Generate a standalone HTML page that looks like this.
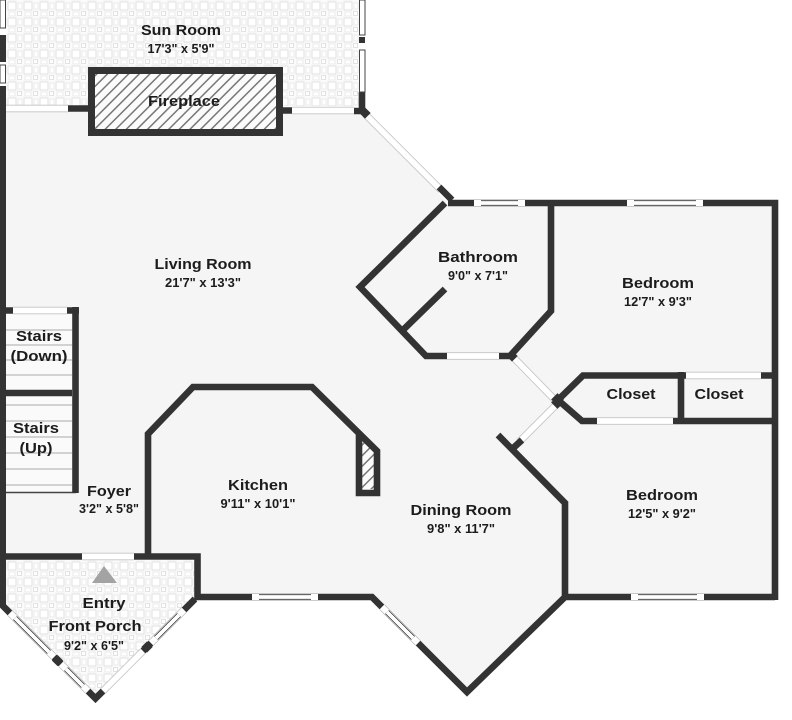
<!DOCTYPE html>
<html><head><meta charset="utf-8"><style>
html,body{margin:0;padding:0;background:#fff}
svg{display:block}
text{font-family:"Liberation Sans",sans-serif;font-weight:bold;fill:#1c1c1c;text-anchor:middle;font-size:15px}
text.s{font-size:12.5px}
.w{fill:none;stroke:#333;stroke-width:6.6;stroke-linejoin:miter;stroke-linecap:butt}
.w6{fill:none;stroke:#333;stroke-width:6}
.d{fill:none;stroke:#c4c4c4;stroke-width:7.5}
.d2{fill:none;stroke:#fff;stroke-width:5.8}
.g0{fill:none;stroke:#999;stroke-width:7.2}
.g1{fill:none;stroke:#fff;stroke-width:6.2}
.g2{fill:none;stroke:#333;stroke-width:5.4}
.g3{fill:none;stroke:#fff;stroke-width:3.8}
.st{stroke:#bbb;stroke-width:1.2}
.sq{fill:#333}
</style></head><body>
<svg width="792" height="720" viewBox="0 0 792 720" xmlns="http://www.w3.org/2000/svg">
<defs>
<pattern id="tile" width="16" height="16" patternUnits="userSpaceOnUse" x="7" y="1">
<rect width="16" height="16" fill="#fbfbfb"/>
<rect x="1" y="1" width="8" height="8" fill="#fff" stroke="#e0e0e0" stroke-width="1"/>
<rect x="10.500" y="10.500" width="4" height="4" fill="#fff" stroke="#e2e2e2" stroke-width="1"/>
<rect x="11" y="2" width="4" height="6" fill="#fff" stroke="#ebebeb" stroke-width="1"/>
<rect x="2" y="11" width="6" height="4" fill="#fff" stroke="#ebebeb" stroke-width="1"/>
</pattern>
<pattern id="hatch" width="7.500" height="7.500" patternUnits="userSpaceOnUse" patternTransform="rotate(45)">
<rect width="7.500" height="7.500" fill="#fbfbfb"/>
<rect x="0" width="1.500" height="7.500" fill="#777"/>
</pattern>
</defs>

<rect width="792" height="720" fill="#fff"/>

<!-- floor -->
<polygon points="6,110 360,110 445,200 775,203 775,597 565,597 467,692 372,597 197,597 197,556 6,556" fill="#f5f5f5"/>
<!-- tiles -->
<rect x="6" y="0" width="353" height="106" fill="url(#tile)"/>
<polygon points="6,560 194,560 194,600 95.500,698 6,609" fill="url(#tile)"/>
<!-- stairs -->
<rect x="6" y="312" width="67" height="180" fill="#fafafa"/>
<g class="st">
<line x1="6" y1="330" x2="72" y2="330"/><line x1="6" y1="345" x2="72" y2="345"/><line x1="6" y1="360" x2="72" y2="360"/><line x1="6" y1="375" x2="72" y2="375"/>
<line x1="6" y1="405" x2="72" y2="405"/><line x1="6" y1="421" x2="72" y2="421"/><line x1="6" y1="437" x2="72" y2="437"/><line x1="6" y1="453" x2="72" y2="453"/><line x1="6" y1="469" x2="72" y2="469"/><line x1="6" y1="485" x2="72" y2="485"/>
</g>
<line x1="6" y1="492.500" x2="76" y2="492.500" stroke="#444" stroke-width="1.400"/>

<!-- openings (doors) -->
<path class="d" d="M6 108.500H68M292 110.500H354M82 556.500H134M447 356H499M686 375.500H761M597 421H673M13 310.500H67M365 114L441 190M514 358L556 401M555 406L519 442M103 691L143 651"/>
<path class="d2" d="M6 108.500H68M292 110.500H354M82 556.500H134M447 356H499M686 375.500H761M597 421H673M13 310.500H67M365 114L441 190M514 358L556 401M555 406L519 442M103 691L143 651"/>

<!-- fireplace -->
<rect x="91.500" y="70.500" width="188" height="62" fill="url(#hatch)" stroke="#333" stroke-width="7"/>
<path d="M362 441L374 452V489H362Z" fill="url(#hatch)"/>

<!-- walls -->
<path class="w6" d="M3 35V62M3 86V606M362 37V43"/>
<g class="w">
<path d="M68 108.500H88M283 110.500H292"/>
<path d="M354 111H362V92"/>
<path d="M439 187L452 200"/>
<path d="M448 203H775V600"/>
<path d="M445 203L360 287L426 356H447M499 356H510L551 311V203"/>
<path d="M403 330L445 289"/>
<path d="M761 375.500H775M681 372V421M673 421H775"/>
<path d="M686 375.500H583L558 400L582 421H597"/>
<path d="M522 440L511 450M498 435L565 503V597"/>
<path d="M148 556V434L193 387H312L377 451V493H359V434"/>
<path d="M6 556.500H82M134 556.500H197.500V597H252M318 597H372L382 607M418 643L467 692L565 597H631M704 597H775"/>
<path d="M0 603L10 613M54 657L61 664M88 691L95.500 698.500L103 691M143 651L151 643M184 610L195 599"/>
<path d="M13 310.500H6M67 310.500H79M75.500 307V493M6 393H72"/>
</g>
<!-- joint squares -->
<g class="sq">
<rect x="361" y="109" width="8" height="8" transform="rotate(45 365 113)"/>
<rect x="508" y="352" width="8" height="8" transform="rotate(45 512 356)"/>
<rect x="553" y="395" width="9" height="9" transform="rotate(45 557.500 399.500)"/>
<rect x="553" y="398" width="9" height="9" transform="rotate(45 557.500 402.500)"/>
<rect x="143" y="643" width="8" height="8" transform="rotate(45 147 647)"/>
<rect x="53.500" y="656.500" width="8" height="8" transform="rotate(45 57.500 660.500)"/>
</g>

<!-- windows -->
<path class="g0" d="M474 203H525M627 203H703M252 597H318M631 597H704M382 607L418 643M10 613L54 657M61 664L88 691M151 643L184 610"/>
<path class="g1" d="M474 203H525M627 203H703M252 597H318M631 597H704M382 607L418 643M10 613L54 657M61 664L88 691M151 643L184 610"/>
<path class="g2" d="M481 203H518M634 203H696M259 597H311M638 597H697M387 612L413 638M15 618L49 652M66 669L83 686M156 638L179 615"/>
<path class="g3" d="M481 203H518M634 203H696M259 597H311M638 597H697M387 612L413 638M15 618L49 652M66 669L83 686M156 638L179 615"/>
<path fill="#fff" stroke="#444" stroke-width="1" d="M359.500 0H365V35H359.500ZM359.500 50H365V92H359.500ZM0 0H5.500V28H0ZM0 65H5.500V83H0Z"/>

<!-- entry arrow -->
<polygon points="104,566 117,583 92,583" fill="#a3a3a3"/>

<!-- labels -->
<text x="181" y="35" textLength="80" lengthAdjust="spacingAndGlyphs">Sun Room</text>
<text class="s" x="181" y="53" textLength="67" lengthAdjust="spacingAndGlyphs">17'3" x 5'9"</text>
<text x="184" y="106" textLength="72" lengthAdjust="spacingAndGlyphs">Fireplace</text>
<text x="203" y="269" textLength="97" lengthAdjust="spacingAndGlyphs">Living Room</text>
<text class="s" x="203" y="287" textLength="76" lengthAdjust="spacingAndGlyphs">21'7" x 13'3"</text>
<text x="478" y="262" textLength="80" lengthAdjust="spacingAndGlyphs">Bathroom</text>
<text class="s" x="478" y="280" textLength="60" lengthAdjust="spacingAndGlyphs">9'0" x 7'1"</text>
<text x="658" y="288" textLength="72" lengthAdjust="spacingAndGlyphs">Bedroom</text>
<text class="s" x="658" y="306" textLength="68" lengthAdjust="spacingAndGlyphs">12'7" x 9'3"</text>
<text x="631" y="399" textLength="49" lengthAdjust="spacingAndGlyphs">Closet</text>
<text x="719" y="399" textLength="49" lengthAdjust="spacingAndGlyphs">Closet</text>
<text x="39" y="341" textLength="46" lengthAdjust="spacingAndGlyphs">Stairs</text>
<text x="39" y="361" textLength="57" lengthAdjust="spacingAndGlyphs">(Down)</text>
<text x="36" y="433" textLength="46" lengthAdjust="spacingAndGlyphs">Stairs</text>
<text x="36" y="453" textLength="33" lengthAdjust="spacingAndGlyphs">(Up)</text>
<text x="109" y="496" textLength="44" lengthAdjust="spacingAndGlyphs">Foyer</text>
<text class="s" x="109" y="513" textLength="60" lengthAdjust="spacingAndGlyphs">3'2" x 5'8"</text>
<text x="258" y="490" textLength="60" lengthAdjust="spacingAndGlyphs">Kitchen</text>
<text class="s" x="258" y="508" textLength="75" lengthAdjust="spacingAndGlyphs">9'11" x 10'1"</text>
<text x="461" y="515" textLength="101" lengthAdjust="spacingAndGlyphs">Dining Room</text>
<text class="s" x="461" y="533" textLength="68" lengthAdjust="spacingAndGlyphs">9'8" x 11'7"</text>
<text x="662" y="500" textLength="72" lengthAdjust="spacingAndGlyphs">Bedroom</text>
<text class="s" x="662" y="518" textLength="68" lengthAdjust="spacingAndGlyphs">12'5" x 9'2"</text>
<text x="104" y="608" textLength="43" lengthAdjust="spacingAndGlyphs">Entry</text>
<text x="95" y="631" textLength="93" lengthAdjust="spacingAndGlyphs">Front Porch</text>
<text class="s" x="94" y="650" textLength="60" lengthAdjust="spacingAndGlyphs">9'2" x 6'5"</text>
</svg>
</body></html>
